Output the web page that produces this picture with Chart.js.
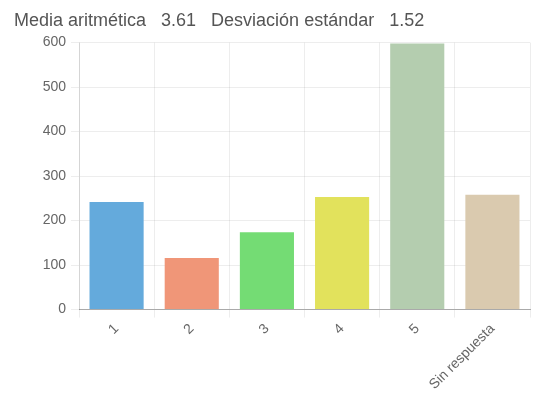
<!DOCTYPE html>
<html>
<head>
<meta charset="utf-8">
<script src="https://cdn.jsdelivr.net/npm/chart.js@4"></script>
<style>
  html, body { margin: 0; padding: 0; background: #fff; }
  #wrap { width: 537px; height: 401px; }
</style>
</head>
<body>
<div id="wrap"><canvas id="chart"></canvas></div>
<script>
// Chart data
const categories = ['1', '2', '3', '4', '5', 'Sin respuesta'];
const counts = [242, 116, 174, 253, 598, 258];
const barColors = ['#64aadc', '#f09678', '#74dc74', '#e2e25c', '#b4cdaf', '#dacaaf'];
const yTicks = [0, 100, 200, 300, 400, 500, 600];
const titleText = 'Media aritmética   3.61   Desviación estándar   1.52';

Chart.defaults.font.family = '"Liberation Sans", Arial, sans-serif';
Chart.defaults.color = '#666';

const ctx = document.getElementById('chart').getContext('2d');
const chart = new Chart(ctx, {
    type: 'bar',
    data: {
        labels: categories,
        datasets: [{
            data: counts,
            backgroundColor: barColors,
            borderWidth: 0
        }]
    },
    options: {
        responsive: true,
        maintainAspectRatio: false,
        animation: false,
        layout: { padding: { left: 14, right: 7, top: 8, bottom: 5 } },
        plugins: {
            legend: { display: false },
            tooltip: { enabled: false },
            title: {
                display: true,
                text: titleText,
                align: 'start',
                color: '#555',
                font: { size: 18, weight: 'normal' },
                padding: { top: 2, bottom: 11 }
            }
        },
        scales: {
            x: {
                grid: { color: 'rgba(0,0,0,0.07)' },
                border: { color: '#aaa' },
                ticks: {
                    font: { size: 14 },
                    maxRotation: 45,
                    minRotation: 45
                }
            },
            y: {
                min: 0,
                max: 600,
                afterBuildTicks: (scale) => {
                    scale.ticks = yTicks.map(v => ({ value: v }));
                },
                afterFit: (scale) => {
                    scale.width = 65; // push the axis line out to match
                },
                grid: { color: 'rgba(0,0,0,0.07)' },
                border: { color: 'rgba(0,0,0,0.1)' },
                ticks: {
                    font: { size: 14 },
                    padding: 5
                }
            }
        }
    }
});
</script>
</body>
</html>
